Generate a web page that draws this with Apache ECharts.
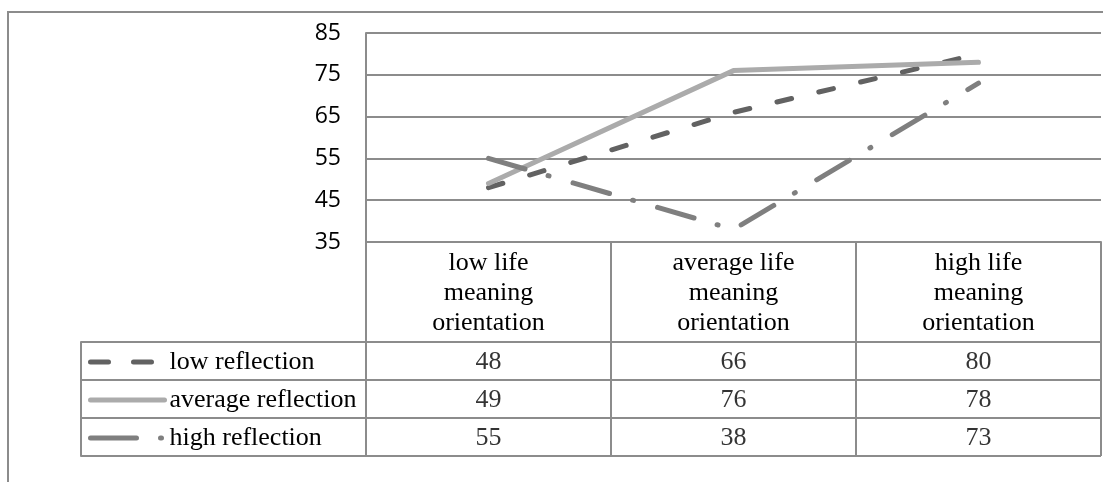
<!DOCTYPE html>
<html><head><meta charset="utf-8">
<script src="https://cdn.jsdelivr.net/npm/echarts@6/dist/echarts.min.js"></script>
<style>
html,body{margin:0;padding:0;background:#fff;}
#frame{position:absolute;left:7px;top:11px;width:1200px;height:600px;border:2px solid #8c8c8c;box-sizing:border-box;}
#chart{position:absolute;left:0;top:0;width:1103px;height:482px;}
</style></head><body>
<div id="frame"></div>
<div id="chart"></div>
<script>
const categories = ['low life\nmeaning\norientation', 'average life\nmeaning\norientation', 'high life\nmeaning\norientation'];
const seriesNames = ['low reflection', 'average reflection', 'high reflection'];
const lowReflection = [48, 66, 80];
const averageReflection = [49, 76, 78];
const highReflection = [55, 38, 73];
const yMin = 35, yMax = 85, yInterval = 10;

const seriesValues = [lowReflection, averageReflection, highReflection];
const GRID = '#8c8c8c';
const SERIF = 'Liberation Serif';
const lineStyles = [
  {color: '#626262', width: 5, type: [15, 28], cap: 'round'},
  {color: '#ababab', width: 5, type: 'solid', cap: 'round'},
  {color: '#7f7f7f', width: 5, type: [38, 24, 1, 25], cap: 'round'}
];
const legendDash = [[18, 25], 'solid', [46, 24, 1, 40]];

const tableData = [];
seriesValues.forEach((vals, i) => vals.forEach((v, j) => tableData.push([j, i, v])));

const chart = echarts.init(document.getElementById('chart'), null, {renderer: 'canvas'});
const option = {
  animation: false,
  backgroundColor: 'transparent',
  grid: [
    {left: 366, right: 2, top: 33, height: 209},
    {left: 366, right: 2, top: 242, height: 214},
    {left: 81, right: 2, top: 342, height: 114},
    {left: 366, right: 2, top: 342, height: 114}
  ],
  xAxis: [
    {gridIndex: 0, type: 'category', data: categories, boundaryGap: true,
     axisLine: {show: true, lineStyle: {color: GRID, width: 2}}, axisTick: {show: false},
     axisLabel: {fontFamily: SERIF, fontSize: 26, lineHeight: 30, color: '#000', margin: 6, interval: 0}},
    {gridIndex: 1, type: 'category', data: categories, boundaryGap: true,
     axisLine: {show: false}, axisTick: {show: false}, axisLabel: {show: false},
     splitLine: {show: true, interval: 0, lineStyle: {color: GRID, width: 2}}},
    {gridIndex: 2, type: 'value', min: 0, max: 1, show: false},
    {gridIndex: 3, type: 'category', data: categories, show: false}
  ],
  yAxis: [
    {gridIndex: 0, type: 'value', min: yMin, max: yMax, interval: yInterval,
     axisLine: {show: true, lineStyle: {color: GRID, width: 2}}, axisTick: {show: false},
     axisLabel: {fontFamily: 'Open Sans', fontSize: 23, color: '#000', margin: 25},
     splitLine: {show: true, lineStyle: {color: GRID, width: 2}}},
    {gridIndex: 1, type: 'value', min: 0, max: 1, show: false},
    {gridIndex: 2, type: 'category', data: seriesNames, inverse: true, boundaryGap: true,
     axisLine: {show: true, lineStyle: {color: GRID, width: 2}}, axisTick: {show: false}, axisLabel: {show: false},
     splitLine: {show: true, interval: 0, lineStyle: {color: GRID, width: 2}}},
    {gridIndex: 3, type: 'category', data: seriesNames, inverse: true, show: false}
  ],
  legend: seriesNames.map((n, i) => ({
    data: [n], orient: 'vertical', left: 88, top: 349 + 38 * i, padding: 0,
    itemWidth: 74, itemHeight: 14, selectedMode: false,
    textStyle: {fontFamily: SERIF, fontSize: 26, lineHeight: 26, color: '#000'},
    itemStyle: {opacity: 0},
    lineStyle: {width: lineStyles[i].width, type: legendDash[i], cap: 'round', color: lineStyles[i].color, opacity: 1}
  })),
  series: [
    ...seriesValues.map((vals, i) => ({
      name: seriesNames[i], type: 'line', xAxisIndex: 0, yAxisIndex: 0,
      data: vals, symbol: 'none', lineStyle: lineStyles[i], itemStyle: {color: lineStyles[i].color}
    })),
    {type: 'scatter', xAxisIndex: 3, yAxisIndex: 3, data: tableData, symbol: 'rect', symbolSize: 1,
     itemStyle: {color: 'rgba(0,0,0,0)'},
     label: {show: true, position: 'inside', offset: [0, 1], formatter: p => String(p.value[2]),
             fontFamily: SERIF, fontSize: 26, color: '#000'}}
  ]
};
chart.setOption(option);
</script>
</body></html>
